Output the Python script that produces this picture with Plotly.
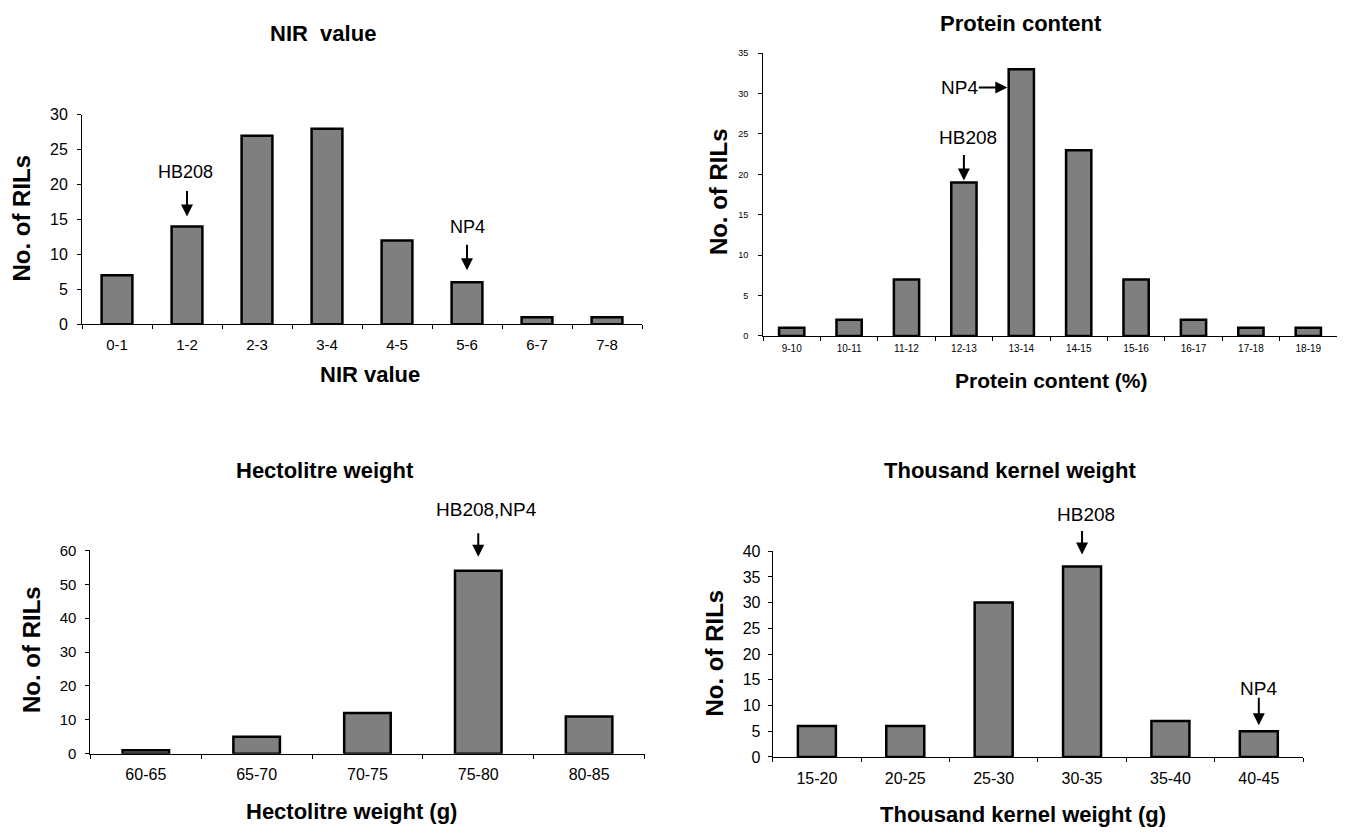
import plotly.graph_objects as go

# ---------------- data ----------------
nir_categories = ["0-1", "1-2", "2-3", "3-4", "4-5", "5-6", "6-7", "7-8"]
nir_counts = [7, 14, 27, 28, 12, 6, 1, 1]

protein_categories = ["9-10", "10-11", "11-12", "12-13", "13-14", "14-15",
                      "15-16", "16-17", "17-18", "18-19"]
protein_counts = [1, 2, 7, 19, 33, 23, 7, 2, 1, 1]

hectolitre_categories = ["60-65", "65-70", "70-75", "75-80", "80-85"]
hectolitre_counts = [1, 5, 12, 54, 11]

tkw_categories = ["15-20", "20-25", "25-30", "30-35", "35-40", "40-45"]
tkw_counts = [6, 6, 30, 37, 7, 5]

# ---------------- layout helpers ----------------
WIN_W, WIN_H = 1345, 839
OFF = 8  # default page body margin
W, H = WIN_W - OFF, WIN_H - OFF
FONT = "Arial, Liberation Sans, Helvetica, sans-serif"
BAR_FILL = "#7f7f7f"


def px(x):
    return (x - OFF) / W


def py(y):
    return 1 - (y - OFF) / H


fig = go.Figure()

panels = [
    dict(cats=nir_categories, vals=nir_counts, width=0.44, xs="x", ys="y",
         xdom=(82, 642), ydom=(322, 108), yrange=30, dtick=5,
         xfont=15, yfont=16, xstand=7, ystand=6),
    dict(cats=protein_categories, vals=protein_counts, width=0.44, xs="x2", ys="y2",
         xdom=(763, 1337), ydom=(334, 45), yrange=35, dtick=5,
         xfont=10, yfont=9, xstand=3, ystand=8),
    dict(cats=hectolitre_categories, vals=hectolitre_counts, width=0.42, xs="x3", ys="y3",
         xdom=(90.4, 644.5), ydom=(761, 553.3), yrange=60, dtick=10,
         xfont=16, yfont=15, xstand=6, ystand=6),
    dict(cats=tkw_categories, vals=tkw_counts, width=0.43, xs="x4", ys="y4",
         xdom=(772.7, 1303), ydom=(764.3, 554), yrange=40, dtick=5,
         xfont=16, yfont=16, xstand=7, ystand=4),
]

layout_axes = {}
for i, p in enumerate(panels):
    fig.add_trace(go.Bar(
        x=p["cats"], y=p["vals"], width=p["width"],
        marker=dict(color=BAR_FILL, line=dict(color="black", width=2.5)),
        xaxis=p["xs"], yaxis=p["ys"], showlegend=False,
    ))
    sfx = "" if i == 0 else str(i + 1)
    layout_axes["xaxis" + sfx] = dict(
        domain=[px(p["xdom"][0]), px(p["xdom"][1])],
        anchor="y" + sfx, type="category",
        range=[-0.5, len(p["cats"]) - 0.5],
        showline=True, linecolor="black", linewidth=1,
        ticks="outside", tickson="boundaries", ticklen=4, tickcolor="black",
        showgrid=False, zeroline=False,
        tickfont=dict(family=FONT, size=p["xfont"], color="black"),
        ticklabelstandoff=p["xstand"], fixedrange=True,
    )
    layout_axes["yaxis" + sfx] = dict(
        domain=[py(p["ydom"][0]), py(p["ydom"][1])],
        anchor="x" + sfx, range=[0, p["yrange"]], dtick=p["dtick"],
        showline=True, linecolor="black", linewidth=1,
        ticks="outside", ticklen=4, tickcolor="black",
        showgrid=False, zeroline=False,
        tickfont=dict(family=FONT, size=p["yfont"], color="black"),
        ticklabelstandoff=p["ystand"], fixedrange=True,
    )

annotations = []


def ptext(text, x, y, size, bold=True, angle=0):
    t = f"<b>{text}</b>" if bold else text
    annotations.append(dict(
        text=t, x=px(x), y=py(y), xref="paper", yref="paper",
        xanchor="center", yanchor="middle", showarrow=False, textangle=angle,
        font=dict(family=FONT, size=size, color="black"),
    ))


# panel titles
ptext("NIR\u00a0 value", 323, 25, 22)
ptext("Protein content", 1021, 15, 22)
ptext("Hectolitre weight", 325, 472, 22)
ptext("Thousand kernel weight", 1010, 472, 22)

# x-axis titles
ptext("NIR value", 370, 373, 22)
ptext("Protein content (%)", 1051, 380, 21)
ptext("Hectolitre weight (g)", 351, 820, 22)
ptext("Thousand kernel weight (g)", 1023, 823, 22)

# y-axis titles
for (xx, yy) in [(22, 214), (718, 187), (32, 655), (714.6, 658)]:
    ptext("No. of RILs", xx, yy, 24, angle=-90)


def marker(ax_suffix, cats, vals, cat, label, ax, ay, standoff, tx_shift, ty_shift,
           size=18, yval=None):
    v = vals[cats.index(cat)] if yval is None else yval
    annotations.append(dict(
        x=cat, y=v, xref="x" + ax_suffix, yref="y" + ax_suffix, text="",
        showarrow=True, arrowhead=2, arrowsize=1.2, arrowwidth=2,
        arrowcolor="black", ax=ax, ay=ay, standoff=standoff,
    ))
    annotations.append(dict(
        x=cat, y=v, xref="x" + ax_suffix, yref="y" + ax_suffix, text=label,
        showarrow=False, xshift=tx_shift, yshift=ty_shift,
        xanchor="center", yanchor="middle",
        font=dict(family=FONT, size=size, color="black"),
    ))


# NIR value
marker("", nir_categories, nir_counts, "1-2", "HB208", 0, -37, 10, -2, 54, 18)
marker("", nir_categories, nir_counts, "5-6", "NP4", 0, -39, 12, 0, 55, 18)
# Protein content
marker("2", protein_categories, protein_counts, "12-13", "HB208", 0, -29, 2, 4, 45, 19)
np4_level = protein_counts[protein_categories.index("13-14")] - 2.25
marker("2", protein_categories, protein_counts, "13-14", "NP4", -44, 0, 14, -62, 0, 19,
       yval=np4_level)
# Hectolitre weight
marker("3", hectolitre_categories, hectolitre_counts, "75-80", "HB208,NP4",
       0, -39, 14, 8, 61, 19)
# Thousand kernel weight
marker("4", tkw_categories, tkw_counts, "30-35", "HB208", 0, -37, 12, 4, 52, 19)
marker("4", tkw_categories, tkw_counts, "40-45", "NP4", 0, -35, 6, 0, 43, 19)

fig.update_layout(
    width=W, height=H,
    margin=dict(l=0, r=0, t=0, b=0),
    paper_bgcolor="white", plot_bgcolor="white",
    font=dict(family=FONT, color="black"),
    annotations=annotations,
    showlegend=False,
    **layout_axes,
)

fig.write_html("out.html")
